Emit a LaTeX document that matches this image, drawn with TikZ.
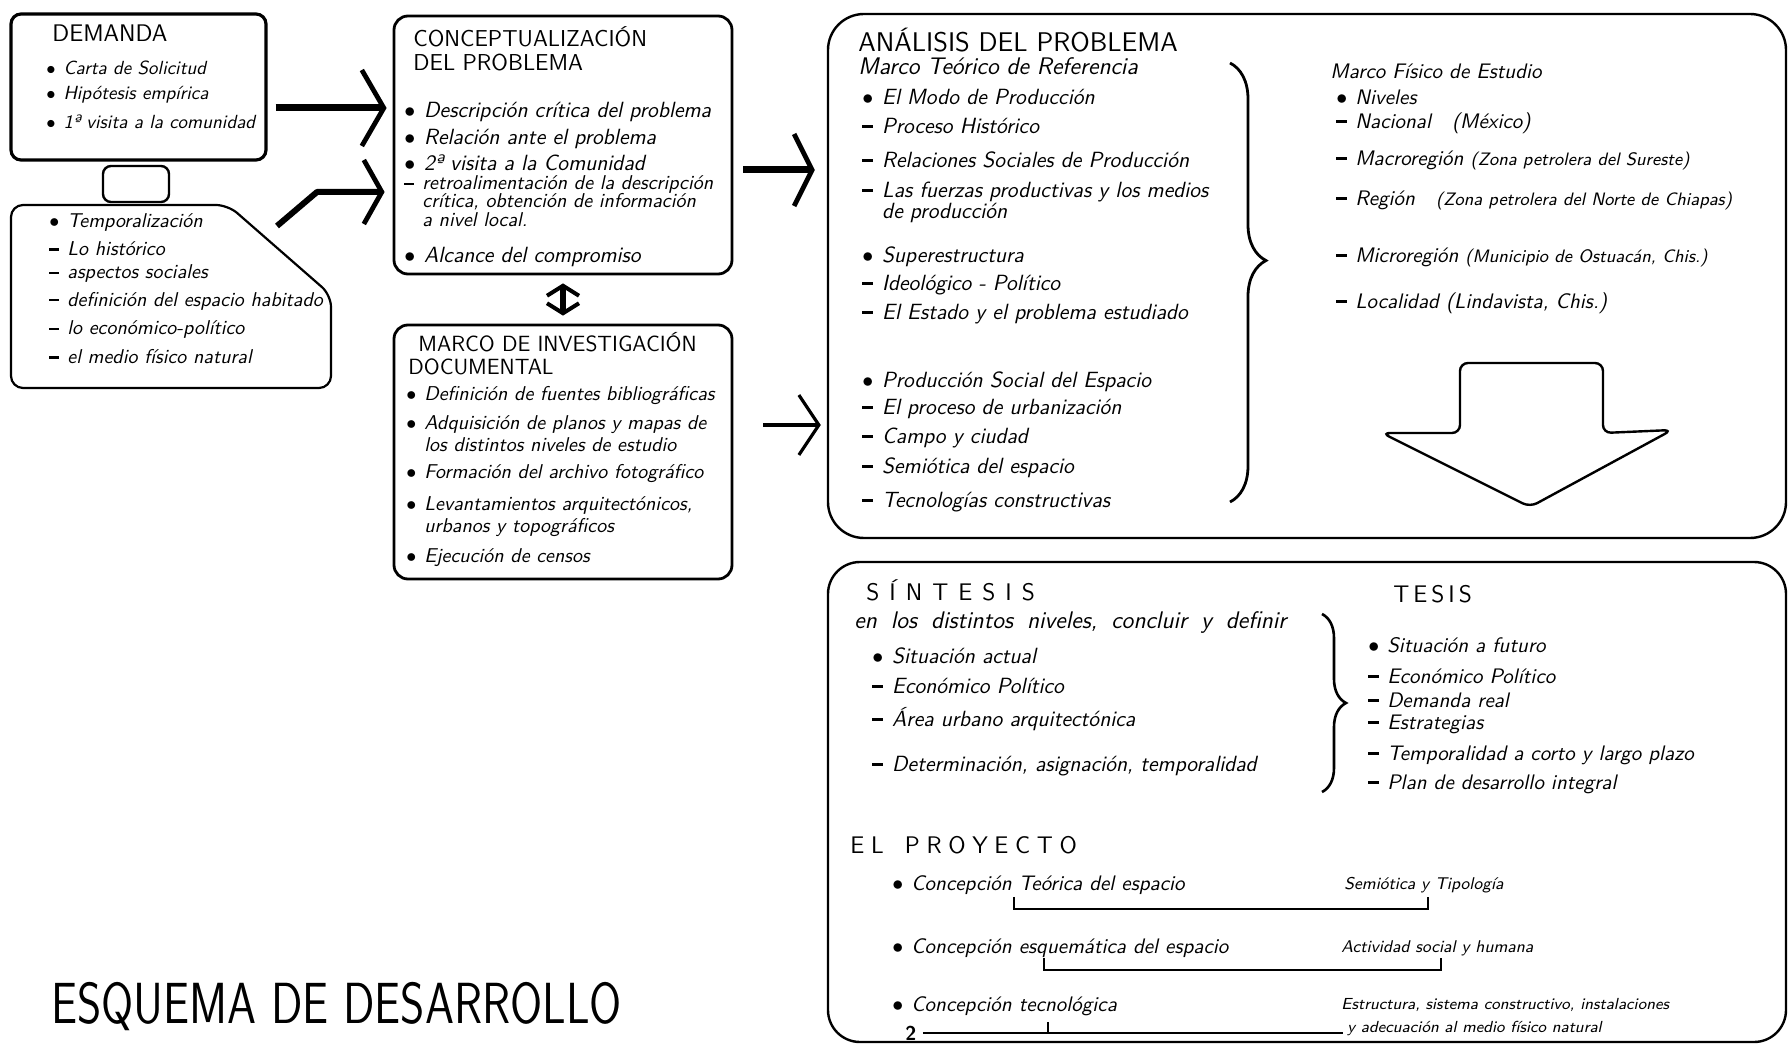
\documentclass[tikz,border=0pt]{standalone}
\usepackage{graphicx}
\usetikzlibrary{arrows.meta,decorations.pathreplacing}

\newcommand{\tam}[1]{\sffamily\itshape\fontsize{#1}{#1}\selectfont}
\newcommand{\pto}{\makebox[0.9em][l]{\ensuremath{\bullet}}}
\newcommand{\gui}{\makebox[0.9em][l]{\rule[0.55ex]{0.5em}{0.13em}}}
\newcommand{\chica}{\fontsize{9}{10}\selectfont}
\newcommand{\esp}{\hspace{7pt}}

\tikzset{
  caja/.style={draw, line width=1.4pt, rounded corners=7pt, inner sep=0pt},
  titulo/.style={anchor=west, inner sep=0pt, font=\sffamily\fontsize{12}{14}\selectfont},
  texto/.style={anchor=west, inner sep=0pt, font=\tam{10}},
  flecha/.style={line width=3.5pt, line join=round,
    -{Straight Barb[length=11pt,width=38pt,line width=2.4pt]}},
  subraya/.style={line width=0.9pt},
}

\begin{document}
\begin{tikzpicture}[x=0.5pt,y=-0.5pt]
  \useasboundingbox (0,0) rectangle (1790,1048);

  % demanda
  \node[caja, line width=1.6pt, rounded corners=5pt, minimum width=127.5pt, minimum height=73pt] (demanda) at (138.5,87) {};
  \node[titulo] (tdem) at (52,33) {DEMANDA};
  \foreach \y/\t [count=\i] in {68/{\pto Carta de Solicitud}, 95/{\pto Hipótesis empírica}, 122/{\pto 1ª visita a la comunidad}}
    \node[texto, font=\tam{9.5}] (dem\i) at (46,\y) {\t};

  \node[caja, line width=1.2pt, rounded corners=4pt, minimum width=33pt, minimum height=18pt] (enlace) at (136,184) {};

  % temporalizacion
  \draw[line width=1.1pt, rounded corners=6pt] (11,205) -- (228,205) -- (331,295) -- (331,388) -- (11,388) -- cycle;
  \foreach \y/\t [count=\i] in {223/{\pto Temporalización}, 249/{\gui Lo histórico}, 274/{\gui aspectos sociales}, 301/{\gui definición del espacio habitado}, 330/{\gui lo económico-político}, 357/{\gui el medio físico natural}}
    \node[texto] (tem\i) at (49,\y) {\t};

  % conceptualizacion
  \node[caja, minimum width=169pt, minimum height=129pt] (concepto) at (563,145) {};
  \node[titulo, font=\sffamily\fontsize{11.5}{13}\selectfont] (tcon1) at (413,37) {CONCEPTUALIZACIÓN};
  \node[titulo, font=\sffamily\fontsize{11.5}{13}\selectfont] (tcon2) at (413,63) {DEL PROBLEMA};
  \foreach \y/\t [count=\i] in {112/{\pto Descripción crítica del problema}, 139/{\pto Relación ante el problema}, 163/{\pto 2ª visita a la Comunidad}, 257/{\pto Alcance del compromiso}}
    \node[texto, font=\tam{11}] (con\i) at (404,\y) {\t};
  \foreach \y/\t [count=\i] in {185/{\gui retroalimentación de la descripción}, 202/{\hspace{0.9em}crítica, obtención de información}, 220/{\hspace{0.9em}a nivel local.}}
    \node[texto] (ret\i) at (404,\y) {\t};

  % marco de investigacion
  \node[caja, minimum width=169pt, minimum height=127pt] (marco) at (563,452) {};
  \node[titulo, font=\sffamily\fontsize{11}{13}\selectfont] (tmar1) at (418,342) {MARCO DE INVESTIGACIÓN};
  \node[titulo, font=\sffamily\fontsize{11}{13}\selectfont] (tmar2) at (408,367) {DOCUMENTAL};
  \foreach \y/\t [count=\i] in {396/{\pto Definición de fuentes bibliográficas}, 425/{\pto Adquisición de planos y mapas de}, 445/{\hspace{0.9em}los distintos niveles de estudio}, 474/{\pto Formación del archivo fotográfico}, 505/{\pto Levantamientos arquitectónicos,}, 528/{\hspace{0.9em}urbanos y topográficos}, 558/{\pto Ejecución de censos}}
    \node[texto] (mar\i) at (406,\y) {\t};

  % analisis
  \node[caja, line width=1.2pt, rounded corners=18pt, minimum width=479pt, minimum height=262pt] (analisis) at (1307,276) {};
  \node[titulo, font=\sffamily\fontsize{13.5}{15}\selectfont] (tana) at (858,40) {ANÁLISIS DEL PROBLEMA};
  \node[texto, font=\tam{12}] (mteo) at (858,66) {Marco Teórico de Referencia};
  \foreach \y/\t [count=\i] in {97/{\pto El Modo de Producción}, 126/{\gui Proceso Histórico}, 160/{\gui Relaciones Sociales de Producción}, 192/{\gui Las fuerzas productivas y los medios}, 213/{\hspace{0.9em}de producción}, 257/{\pto Superestructura}, 285/{\gui Ideológico - Político}, 314/{\gui El Estado y el problema estudiado}, 382/{\pto Producción Social del Espacio}, 409/{\gui El proceso de urbanización}, 438/{\gui Campo y ciudad}, 468/{\gui Semiótica del espacio}, 502/{\gui Tecnologías constructivas}}
    \node[texto, font=\tam{11}] (ana\i) at (862,\y) {\t};
  \draw[line width=1.4pt, decorate, decoration={brace, amplitude=18pt, aspect=0.45}] (1230,63) -- (1230,502);

  \node[texto, font=\tam{10.5}] (mfis) at (1330,71) {Marco Físico de Estudio};
  \foreach \y/\t [count=\i] in {97/{\pto Niveles}, 123/{\gui Nacional\quad (México)}, 160/{\gui Macroregión {\chica(Zona petrolera del Sureste)}}, 200/{\gui Región\quad {\chica(Zona petrolera del Norte de Chiapas)}}, 257/{\gui Microregión {\chica(Municipio de Ostuacán, Chis.)}}, 303/{\gui Localidad\ (Lindavista, Chis.)}}
    \node[texto, font=\tam{10.5}] (fis\i) at (1336,\y) {\t};

  \draw[line width=1.2pt, rounded corners=4pt] (1460,433) -- (1460,363) -- (1603,363) -- (1603,433) -- (1672,430) -- (1530,507) -- (1382,433) -- cycle;

  % sintesis y tesis
  \node[caja, line width=1.2pt, rounded corners=16pt, minimum width=479pt, minimum height=240pt] (sintesis) at (1307,802) {};
  \node[titulo] (tsin) at (866,590) {S\hspace{5pt}Í\hspace{5pt}N\hspace{5pt}T\hspace{5pt}E\hspace{5pt}S\hspace{5pt}I\hspace{5pt}S};
  \node[texto, font=\tam{12}] (sin0) at (854,622) {en\esp los\esp distintos\esp niveles,\esp concluir\esp y\esp definir};
  \foreach \y/\t [count=\i] in {656/{\pto Situación actual}, 686/{\gui Económico Político}, 719/{\gui Área urbano arquitectónica}, 766/{\gui Determinación, asignación, temporalidad}}
    \node[texto, font=\tam{11}] (sin\i) at (872,\y) {\t};
  \draw[line width=1.3pt, decorate, decoration={brace, amplitude=12pt}] (1322,614) -- (1322,792);

  \node[titulo] (ttes) at (1393,594) {T\,E\,S\,I\,S};
  \foreach \y/\t [count=\i] in {645/{\pto Situación a futuro}, 676/{\gui Económico Político}, 700/{\gui Demanda real}, 724/{\gui Estrategias}, 755/{\gui Temporalidad a corto y largo plazo}, 784/{\gui Plan de desarrollo integral}}
    \node[texto, font=\tam{10.5}] (tes\i) at (1368,\y) {\t};

  % el proyecto
  \node[titulo] (tpro) at (850,845) {E\;L\;\; P\;R\;O\;Y\;E\;C\;T\;O};
  \node[texto, font=\tam{10.5}] (pro1) at (892,885) {\pto Concepción Teórica del espacio};
  \node[texto, font=\tam{8.5}] (pro1d) at (1344,885) {Semiótica y Tipología};
  \node[texto, font=\tam{10.5}] (pro2) at (892,948) {\pto Concepción esquemática del espacio};
  \node[texto, font=\tam{8.5}] (pro2d) at (1341,948) {Actividad social y humana};
  \node[texto, font=\tam{10.5}] (pro3) at (892,1006) {\pto Concepción tecnológica};
  \node[texto, font=\tam{8}] (pro3d) at (1341,1005) {Estructura, sistema constructivo, instalaciones};
  \node[texto, font=\tam{8}] (pro3e) at (1347,1028) {y adecuación al medio físico natural};
  \node[anchor=west, inner sep=0pt, font=\sffamily\bfseries\fontsize{10}{12}\selectfont] (pag) at (905,1033) {2};

  \coordinate (s1a) at ([xshift=61pt,yshift=-7pt]pro1.south west);
  \coordinate (s1b) at ([xshift=42pt]pro1d.south west);
  \draw[subraya] (s1a) ++(0,-12) -- (s1a) -- (s1a -| s1b) -- ++(0,-12);
  \coordinate (s2a) at ([xshift=76pt,yshift=-6pt]pro2.south west);
  \coordinate (s2b) at ([xshift=50pt]pro2d.south west);
  \draw[subraya] (s2a) ++(0,-12) -- (s2a) -- (s2a -| s2b) -- ++(0,-12);
  \coordinate (s3a) at ([xshift=78pt,yshift=-3pt]pro3.south west);
  \draw[subraya] (s3a) -- (s3a |- pag.east);
  \draw[subraya, shorten <=3pt, shorten >=2pt] (pag.east) -- (pag.east -| pro3e.west);

  % titulo
  \node[anchor=west, inner sep=0pt, font=\sffamily\fontsize{29}{32}\selectfont] (esquema) at (51,1007) {\scalebox{0.8}[1]{ESQUEMA DE DESARROLLO}};

  % flechas
  \coordinate (c1) at ([yshift=-10.5pt]demanda.east);
  \draw[flecha, shorten <=4pt, shorten >=3pt] (c1) -- (c1 -| concepto.west);
  \coordinate (c2) at (277,226);
  \coordinate (c2b) at (317,192);
  \draw[flecha, line width=3pt, shorten >=4pt, -{Straight Barb[length=9pt,width=32pt,line width=2.4pt]}] (c2) -- (c2b) -- (c2b -| concepto.west);
  \coordinate (c3) at ([yshift=-12.5pt]concepto.east);
  \draw[flecha, shorten <=5pt, shorten >=6pt, -{Straight Barb[length=9pt,width=36pt,line width=2.4pt]}] (c3) -- (c3 -| analisis.west);
  \coordinate (c4) at ([yshift=13.5pt]marco.east);
  \draw[flecha, line width=1.8pt, shorten <=15pt, shorten >=3pt, -{Straight Barb[length=10pt,width=30pt,line width=1.6pt]}] (c4) -- (c4 -| analisis.west);
  \draw[line width=3pt, {Straight Barb[length=5pt,width=16pt,line width=2pt]}-{Straight Barb[length=5pt,width=16pt,line width=2pt]}, shorten <=4pt, shorten >=4pt] (concepto.south) -- (marco.north);
\end{tikzpicture}
\end{document}
